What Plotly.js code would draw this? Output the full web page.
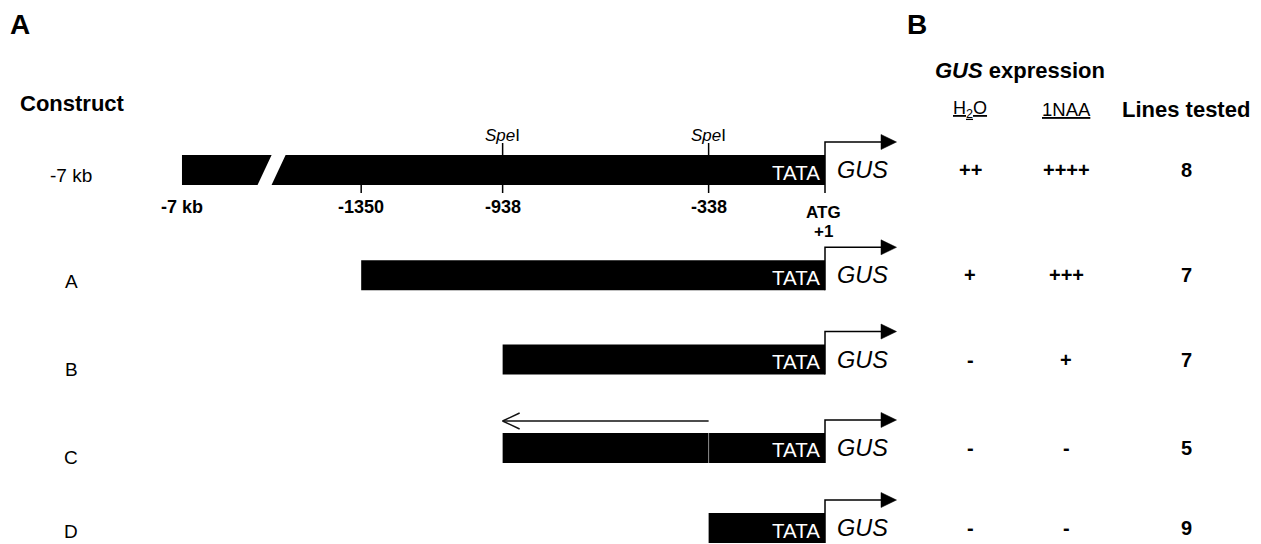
<!DOCTYPE html>
<html><head><meta charset="utf-8">
<script src="https://cdn.plot.ly/plotly-3.0.1.min.js"></script>
<style>html,body{margin:0;padding:0;background:#fff}#chart{width:1261px;height:544px}</style>
</head><body><div id="chart"></div>
<script>
// ---------------- data ----------------
const constructs = ['-7 kb', 'A', 'B', 'C', 'D'];
const promoterStart = [-7000, -1350, -938, -938, -338];   // bp relative to ATG (+1)
const promoterEnd = [1, 1, 1, 1, 1];
const invertedFrom = [null, null, null, -938, null];       // inverted SpeI fragment (construct C)
const invertedTo = [null, null, null, -338, null];
const mapSites = [-7000, -1350, -938, -338];
const mapSiteLabels = ['-7 kb', '-1350', '-938', '-338'];
const speISites = [-938, -338];
const h2oExpression = ['++', '+', '-', '-', '-'];
const naaExpression = ['++++', '+++', '+', '-', '-'];
const linesTested = ['8', '7', '7', '5', '9'];

// ---------------- layout helpers ----------------
const W = 1261, H = 544;
const ATG_PX = 825, PX_PER_BP = 0.34331;
const BROKEN_DRAW = -1872;          // drawn position of the -7 kb end on the broken axis
const ROW0_PX = 170, PX_PER_ROW = 84.24;
const rowPos = [0, 1.25, 2.25, 3.3, 4.25];
const labelShift = [5, 6, 10, 10, 3];   // px below the bar centre for the construct names
const xRange = [1 - ATG_PX / PX_PER_BP, 1 + (W - ATG_PX) / PX_PER_BP];
const yRange = [(H - ROW0_PX) / PX_PER_ROW, -ROW0_PX / PX_PER_ROW];
const dx = p => p / PX_PER_BP;
const dy = p => p / PX_PER_ROW;
const drawX = s => (s < -2000 ? BROKEN_DRAW : s);
const FONT = 'Liberation Sans, Arial, Helvetica, sans-serif';
const halfBar = dy(15);

// bars
const segY = [], segBase = [], segLen = [];
constructs.forEach((c, i) => {
  if (invertedFrom[i] !== null) {
    segY.push(rowPos[i]); segBase.push(invertedFrom[i]); segLen.push(invertedTo[i] - invertedFrom[i]);
    segY.push(rowPos[i]); segBase.push(invertedTo[i]); segLen.push(promoterEnd[i] - invertedTo[i]);
  } else {
    const s = drawX(promoterStart[i]);
    segY.push(rowPos[i]); segBase.push(s); segLen.push(promoterEnd[i] - s);
  }
});

const traces = [];
traces.push({
  type: 'bar', orientation: 'h', y: segY, x: segLen, base: segBase,
  width: 2 * halfBar, marker: {color: '#000', line: {width: 0}}, hoverinfo: 'skip'
});

// transcription start arrows
const ax = [], ay = [], tx = [], ty = [];
constructs.forEach((c, i) => {
  const r = rowPos[i];
  const yb = r + halfBar + (i === 0 ? dy(8) : 0);
  const yh = r - dy(28);
  ax.push(promoterEnd[i], promoterEnd[i], promoterEnd[i] + dx(57), null);
  ay.push(yb, yh, yh, null);
  tx.push(promoterEnd[i] + dx(56), promoterEnd[i] + dx(71.5), promoterEnd[i] + dx(56), promoterEnd[i] + dx(56), null);
  ty.push(yh - dy(7.5), yh, yh + dy(7.5), yh - dy(7.5), null);
});
traces.push({type: 'scatter', mode: 'lines', x: ax, y: ay, line: {color: '#000', width: 1.5}, hoverinfo: 'skip'});
traces.push({type: 'scatter', mode: 'lines', x: tx, y: ty, fill: 'toself', fillcolor: '#000',
  line: {color: '#000', width: 0.5}, hoverinfo: 'skip'});

// inverted-fragment arrow
const ix = [], iy = [];
constructs.forEach((c, i) => {
  if (invertedFrom[i] === null) return;
  const yl = rowPos[i] - halfBar - dy(12);
  ix.push(invertedTo[i], invertedFrom[i], null,
          invertedFrom[i] + dx(17), invertedFrom[i], invertedFrom[i] + dx(17), null);
  iy.push(yl, yl, null, yl - dy(8), yl, yl + dy(8), null);
});
traces.push({type: 'scatter', mode: 'lines', x: ix, y: iy, line: {color: '#111', width: 1.5}, hoverinfo: 'skip'});

// shapes: ticks, break, separator
const shapes = [];
const r0 = rowPos[0];
mapSites.forEach(s => {
  if (s < -2000) return;
  shapes.push({type: 'line', xref: 'x', yref: 'y', x0: s, x1: s, y0: r0 + halfBar, y1: r0 + halfBar + dy(8),
    line: {color: '#000', width: 1.5}});
});
speISites.forEach(s => {
  shapes.push({type: 'line', xref: 'x', yref: 'y', x0: s, x1: s, y0: r0 - halfBar, y1: r0 - halfBar - dy(12),
    line: {color: '#000', width: 1.5}});
});
const bc = (BROKEN_DRAW + promoterStart[1]) / 2;
const yt = r0 - halfBar - dy(1), ybt = r0 + halfBar + dy(1);
shapes.push({type: 'path', xref: 'x', yref: 'y', fillcolor: '#fff', line: {width: 0},
  path: `M${bc + dx(0.5)},${yt} L${bc + dx(14.5)},${yt} L${bc - dx(0.5)},${ybt} L${bc - dx(14.5)},${ybt} Z`});
constructs.forEach((c, i) => {
  if (invertedTo[i] === null) return;
  shapes.push({type: 'line', xref: 'x', yref: 'y', x0: invertedTo[i], x1: invertedTo[i],
    y0: rowPos[i] - halfBar, y1: rowPos[i] + halfBar, line: {color: '#8a8a8a', width: 1}});
});

// annotations
const ann = [];
const A = (o) => ann.push(Object.assign({showarrow: false, xref: 'paper', yref: 'paper'}, o));
const f = (size, extra) => Object.assign({family: FONT, size: size, color: '#000'}, extra || {});

A({text: '<b>A</b>', x: 8 / W, y: 1 - 25 / H, xanchor: 'left', yanchor: 'middle', font: f(28)});
A({text: '<b>B</b>', x: 905 / W, y: 1 - 25 / H, xanchor: 'left', yanchor: 'middle', font: f(28)});
A({text: '<b>Construct</b>', x: 18 / W, y: 1 - 103 / H, xanchor: 'left', yanchor: 'middle', font: f(22)});

constructs.forEach((c, i) => {
  A({text: c, x: 71 / W, yref: 'y', y: rowPos[i], yshift: -labelShift[i], xanchor: 'center', yanchor: 'middle', font: f(19)});
  A({text: 'TATA', xref: 'x', x: promoterEnd[i], xshift: -3, yref: 'y', y: rowPos[i], yshift: -2,
     xanchor: 'right', yanchor: 'middle', font: f(20.5, {color: '#fff'})});
  A({text: '<i>GUS</i>', xref: 'x', x: promoterEnd[i], xshift: 37.5, yref: 'y', y: rowPos[i],
     xanchor: 'center', yanchor: 'middle', font: f(23.5)});
  A({text: '<b>' + h2oExpression[i] + '</b>', x: 970 / W, yref: 'y', y: rowPos[i], xanchor: 'center', yanchor: 'middle', font: f(20)});
  A({text: '<b>' + naaExpression[i] + '</b>', x: 1066 / W, yref: 'y', y: rowPos[i], xanchor: 'center', yanchor: 'middle', font: f(20)});
  A({text: '<b>' + linesTested[i] + '</b>', x: 1186 / W, yref: 'y', y: rowPos[i], xanchor: 'center', yanchor: 'middle', font: f(20)});
});

mapSites.forEach((s, k) => {
  A({text: '<b>' + mapSiteLabels[k] + '</b>', xref: 'x', x: drawX(s), yref: 'y', y: r0 + dy(37),
     xanchor: 'center', yanchor: 'middle', font: f(18)});
});
speISites.forEach(s => {
  A({text: '<i>Spe</i>I', xref: 'x', x: s, yref: 'y', y: r0 - dy(35), xanchor: 'center', yanchor: 'middle', font: f(17)});
});
A({text: '<b>ATG</b>', xref: 'x', x: promoterEnd[0], xshift: -2, yref: 'y', y: r0 + dy(42), xanchor: 'center', yanchor: 'middle', font: f(17)});
A({text: '<b>+1</b>', xref: 'x', x: promoterEnd[0], xshift: -2, yref: 'y', y: r0 + dy(61), xanchor: 'center', yanchor: 'middle', font: f(17)});

A({text: '<b><i>GUS</i> expression</b>', x: 933 / W, y: 1 - 71 / H, xanchor: 'left', yanchor: 'middle', font: f(22)});
A({text: '<u>H<sub>2</sub>O</u>', x: 970 / W, y: 1 - 110 / H, xanchor: 'center', yanchor: 'middle', font: f(18)});
A({text: '<u>1NAA</u>', x: 1066 / W, y: 1 - 110 / H, xanchor: 'center', yanchor: 'middle', font: f(18.5)});
A({text: '<b>Lines tested</b>', x: 1186 / W, y: 1 - 110 / H, xanchor: 'center', yanchor: 'middle', font: f(22)});

const layout = {
  width: W, height: H, margin: {l: 0, r: 0, t: 0, b: 0, pad: 0},
  paper_bgcolor: '#fff', plot_bgcolor: '#fff', showlegend: false,
  font: {family: FONT, color: '#000'},
  xaxis: {range: xRange, visible: false, fixedrange: true},
  yaxis: {range: yRange, visible: false, fixedrange: true},
  shapes: shapes, annotations: ann, hovermode: false
};
Plotly.newPlot('chart', traces, layout, {displayModeBar: false, staticPlot: true});
</script></body></html>
